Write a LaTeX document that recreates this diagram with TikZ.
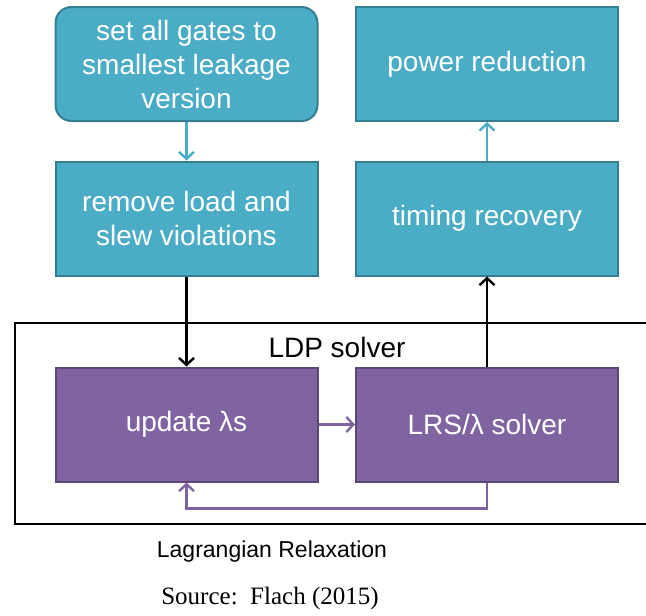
\documentclass[tikz,border=0pt]{standalone}
\usepackage{fontspec}
\setmainfont{Liberation Serif}
\setsansfont{Liberation Sans}
\usetikzlibrary{arrows.meta}
\definecolor{tealfill}{HTML}{4BACC6}
\definecolor{tealline}{HTML}{357D91}
\definecolor{purpfill}{HTML}{8064A2}
\definecolor{purpline}{HTML}{5C4776}
\tikzset{
  stage/.style={draw=tealline, fill=tealfill, line width=2pt, minimum width=262pt,
    minimum height=114pt, align=center, text=white, inner sep=0pt,
    font=\sffamily\fontsize{28}{34}\selectfont},
  roundstage/.style={stage, rounded corners=16pt},
  solverstage/.style={stage, draw=purpline, fill=purpfill},
  flow/.style={line width=2.4pt, -{Straight Barb[length=7pt,width=15pt,line width=2.4pt]}},
}
\begin{document}
\begin{tikzpicture}[x=1pt, y=-1pt]
  \useasboundingbox (0,0) rectangle (646,616);
  % LDP frame
  \draw[line width=2.4pt] (15,323) rectangle (652,524);
  \node[font=\sffamily\fontsize{28}{34}\selectfont] (ldp) at (337,347) {LDP solver};
  % stages
  \node[roundstage] (init) at (186.5,64) {set all gates to\\smallest leakage\\version};
  \node[stage] (legal) at (186.5,218.5) {remove load and\\slew violations};
  \node[stage] (power) at (487,64) {\raisebox{-3pt}{power reduction}};
  \node[stage] (timing) at (487,218.5) {\raisebox{-3pt}{timing recovery}};
  \node[solverstage] (update) at (186.5,424.5) {\raisebox{-3pt}{update λs}};
  \node[solverstage] (lrs) at (487,424.5) {\raisebox{-3pt}{LRS/λ solver}};
  % connectors
  \draw[flow, tealfill] (init) -- (legal);
  \draw[flow] (legal) -- (update);
  \draw[flow, purpfill] (update) -- (lrs);
  \draw[flow, purpfill] (lrs.south) -- ([yshift=-26pt]lrs.south) -| (update.south);
  \draw[flow] (lrs) -- (timing);
  \draw[flow, tealfill] (timing) -- (power);
  % captions
  \node[font=\sffamily\fontsize{23}{28}\selectfont] (lr) at (272,552) {Lagrangian Relaxation};
  \node[font=\fontsize{25}{30}\selectfont] (src) at (270,598) {Source:\ \ Flach (2015)};
\end{tikzpicture}
\end{document}
